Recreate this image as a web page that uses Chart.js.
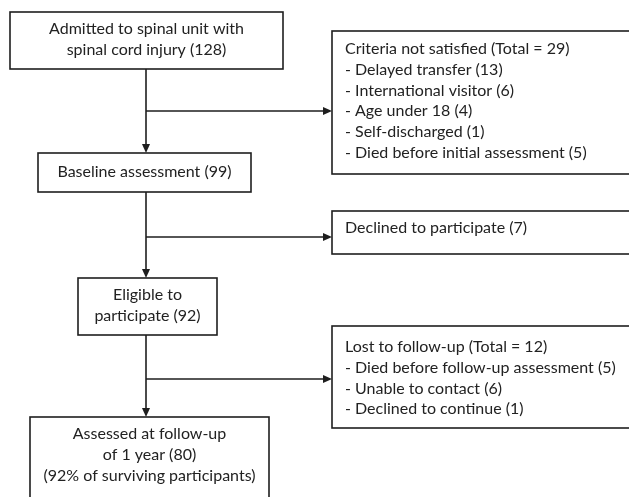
<!DOCTYPE html>
<html>
<head>
<meta charset="utf-8">
<script src="https://cdn.jsdelivr.net/npm/chart.js@4"></script>
<style>
  html, body { margin: 0; padding: 0; background: #fff; }
  #wrap { width: 629px; height: 497px; position: relative; }
</style>
</head>
<body>
<div id="wrap"><canvas id="flow"></canvas></div>
<script>
// participant counts at each stage of the study
const stageLines = [
    ['Admitted to spinal unit with', 'spinal cord injury'],
    ['Baseline assessment'],
    ['Eligible to', 'participate'],
    ['Assessed at follow-up', 'of 1 year']
];
const stageCounts = [128, 99, 92, 80];
const stageNotes = ['', '', '', '(92% of surviving participants)'];

// side boxes: people dropping out between stages
const criteriaReasons = ['Delayed transfer', 'International visitor', 'Age under 18', 'Self-discharged', 'Died before initial assessment'];
const criteriaCounts = [13, 6, 4, 1, 5];
const declinedCount = 7;
const lostReasons = ['Died before follow-up assessment', 'Unable to contact', 'Declined to continue'];
const lostCounts = [5, 6, 1];

const sum = (arr) => arr.reduce((a, b) => a + b, 0);

// layout of the diagram, in canvas units (scale 0..629 x 0..497)
const layout = {
    spineX: 146,
    stages: [
        { l: 10, t: 12, r: 283, b: 69 },
        { l: 38, t: 153, r: 251, b: 192 },
        { l: 78, t: 278, r: 217, b: 335 },
        { l: 30, t: 417, r: 269, b: 520, firstLine: 434 }
    ],
    sides: [
        { l: 332, t: 31, r: 660, b: 174, firstLine: 49, arrowY: 111 },
        { l: 332, t: 211, r: 660, b: 254, firstLine: 228, arrowY: 237 },
        { l: 332, t: 326, r: 660, b: 428, firstLine: 347, arrowY: 379 }
    ],
    lineStep: 20.7,
    font: '16px Lato',
    ink: '#1e1e1e'
};

function stageText(i) {
    const lines = stageLines[i].slice();
    lines[lines.length - 1] += ' (' + stageCounts[i] + ')';
    if (stageNotes[i]) lines.push(stageNotes[i]);
    return lines;
}

function sideText(i) {
    if (i === 0) {
        return ['Criteria not satisfied (Total = ' + sum(criteriaCounts) + ')']
            .concat(criteriaReasons.map((r, k) => '- ' + r + ' (' + criteriaCounts[k] + ')'));
    }
    if (i === 1) return ['Declined to participate (' + declinedCount + ')'];
    return ['Lost to follow-up (Total = ' + sum(lostCounts) + ')']
        .concat(lostReasons.map((r, k) => '- ' + r + ' (' + lostCounts[k] + ')'));
}

const flowPlugin = {
    id: 'flowDiagram',
    afterDraw(chart) {
        const ctx = chart.ctx;
        const X = (v) => chart.scales.x.getPixelForValue(v);
        const Y = (v) => chart.scales.y.getPixelForValue(v);
        ctx.save();
        ctx.strokeStyle = layout.ink;
        ctx.fillStyle = layout.ink;
        ctx.lineWidth = 1.6;

        const box = (b) => {
            ctx.strokeRect(X(b.l), Y(b.t), X(b.r) - X(b.l), Y(b.b) - Y(b.t));
        };
        const line = (x1, y1, x2, y2) => {
            ctx.beginPath();
            ctx.moveTo(X(x1), Y(y1));
            ctx.lineTo(X(x2), Y(y2));
            ctx.stroke();
        };
        const arrowDown = (x, y) => {
            ctx.beginPath();
            ctx.moveTo(X(x), Y(y));
            ctx.lineTo(X(x - 4), Y(y - 9));
            ctx.lineTo(X(x + 4), Y(y - 9));
            ctx.closePath();
            ctx.fill();
        };
        const arrowRight = (x, y) => {
            ctx.beginPath();
            ctx.moveTo(X(x), Y(y));
            ctx.lineTo(X(x - 9), Y(y - 4));
            ctx.lineTo(X(x - 9), Y(y + 4));
            ctx.closePath();
            ctx.fill();
        };

        const st = layout.stages;
        const sx = layout.spineX;

        // spine between the stage boxes
        for (let i = 0; i < st.length - 1; i++) {
            line(sx, st[i].b, sx, st[i + 1].t - 6);
            arrowDown(sx, st[i + 1].t);
        }
        // branches to the side boxes
        layout.sides.forEach((s) => {
            line(sx, s.arrowY, s.l - 6, s.arrowY);
            arrowRight(s.l, s.arrowY);
        });

        st.forEach(box);
        layout.sides.forEach(box);

        ctx.font = layout.font;
        ctx.textBaseline = 'middle';
        ctx.fillStyle = '#222';

        // stage texts, centred
        ctx.textAlign = 'center';
        st.forEach((b, i) => {
            const lines = stageText(i);
            const cx = (b.l + b.r) / 2;
            let y0 = b.firstLine;
            if (y0 === undefined) {
                y0 = (b.t + b.b) / 2 - (lines.length - 1) * layout.lineStep / 2 - 1;
            }
            lines.forEach((t, k) => ctx.fillText(t, X(cx), Y(y0 + k * layout.lineStep)));
        });

        // side texts, left aligned
        ctx.textAlign = 'left';
        layout.sides.forEach((s, i) => {
            sideText(i).forEach((t, k) => ctx.fillText(t, X(s.l + 13), Y(s.firstLine + k * layout.lineStep)));
        });
        ctx.restore();
    }
};

new Chart(document.getElementById('flow'), {
    type: 'scatter',
    data: { datasets: [] },
    options: {
        responsive: true,
        maintainAspectRatio: false,
        animation: false,
        layout: { padding: 0 },
        plugins: { legend: { display: false }, tooltip: { enabled: false } },
        scales: {
            x: { type: 'linear', min: 0, max: 629, display: false },
            y: { type: 'linear', min: 0, max: 497, reverse: true, display: false }
        }
    },
    plugins: [flowPlugin]
});
</script>
</body>
</html>
